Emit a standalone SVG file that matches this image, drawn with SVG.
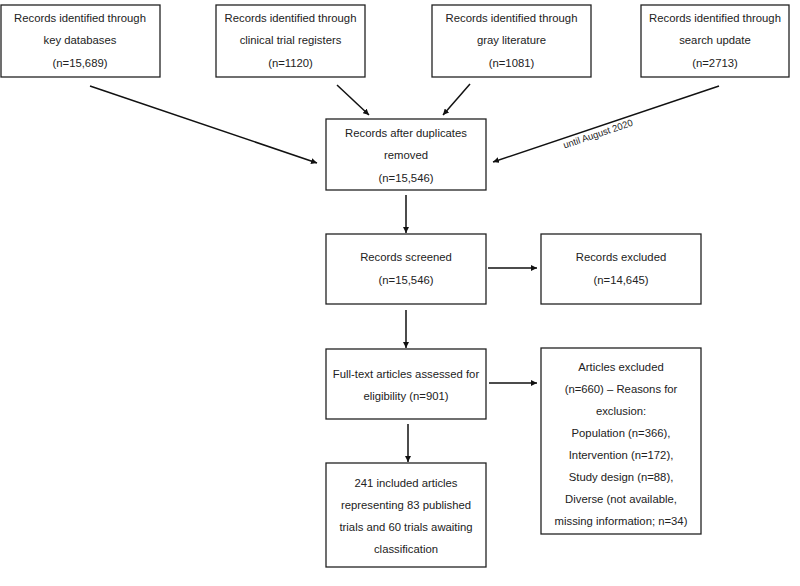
<svg xmlns="http://www.w3.org/2000/svg" width="800" height="586" viewBox="0 0 800 586">
<style>
.b{fill:#fff;stroke:#222;stroke-width:1.3}
.t{font-family:"Liberation Sans",Arial,sans-serif;font-size:11.3px;fill:#222;text-anchor:middle}
.c{stroke:#111;stroke-width:1.5;fill:none;marker-end:url(#ah)}
</style>
<defs>
<marker id="ah" viewBox="0 0 10 10" refX="10" refY="5" markerWidth="6" markerHeight="6" orient="auto" markerUnits="userSpaceOnUse"><path d="M0,0 L10,5 L0,10 z" fill="#111"/></marker>
</defs>
<rect width="800" height="586" fill="#fff"/>
<g id="n1"><rect class="b" x="1" y="5" width="159" height="72"/><text class="t" x="80" y="22">Records identified through</text><text class="t" x="80" y="44">key databases</text><text class="t" x="80" y="67">(n=15,689)</text></g>
<g id="n2"><rect class="b" x="216" y="5" width="149" height="72"/><text class="t" x="290.5" y="22">Records identified through</text><text class="t" x="290.5" y="44">clinical trial registers</text><text class="t" x="290.5" y="67">(n=1120)</text></g>
<g id="n3"><rect class="b" x="432" y="5" width="159" height="72"/><text class="t" x="511.5" y="22">Records identified through</text><text class="t" x="511.5" y="44">gray literature</text><text class="t" x="511.5" y="67">(n=1081)</text></g>
<g id="n4"><rect class="b" x="641" y="5" width="148" height="72"/><text class="t" x="715" y="22">Records identified through</text><text class="t" x="715" y="44">search update</text><text class="t" x="715" y="67">(n=2713)</text></g>
<g id="n5"><rect class="b" x="326" y="119" width="160" height="71"/><text class="t" x="406" y="137">Records after duplicates</text><text class="t" x="406" y="159">removed</text><text class="t" x="406" y="182">(n=15,546)</text></g>
<g id="n6"><rect class="b" x="326" y="234" width="160" height="70"/><text class="t" x="406" y="261">Records screened</text><text class="t" x="406" y="284">(n=15,546)</text></g>
<g id="n7"><rect class="b" x="541" y="234" width="160" height="70"/><text class="t" x="621" y="261">Records excluded</text><text class="t" x="621" y="284">(n=14,645)</text></g>
<g id="n8"><rect class="b" x="326" y="349" width="160" height="70"/><text class="t" x="406" y="378">Full-text articles assessed for</text><text class="t" x="406" y="400">eligibility (n=901)</text></g>
<g id="n9"><rect class="b" x="541" y="348" width="160" height="186"/><text class="t" x="621" y="371">Articles excluded</text><text class="t" x="621" y="393">(n=660) – Reasons for</text><text class="t" x="621" y="415">exclusion:</text><text class="t" x="621" y="437">Population (n=366),</text><text class="t" x="621" y="459">Intervention (n=172),</text><text class="t" x="621" y="481">Study design (n=88),</text><text class="t" x="621" y="503">Diverse (not available,</text><text class="t" x="621" y="525">missing information; n=34)</text></g>
<g id="n10"><rect class="b" x="326" y="463" width="160" height="104"/><text class="t" x="406" y="487">241 included articles</text><text class="t" x="406" y="509">representing 83 published</text><text class="t" x="406" y="531">trials and 60 trials awaiting</text><text class="t" x="406" y="553">classification</text></g>
<g id="connectors">
<line class="c" x1="90" y1="86" x2="317" y2="163"/>
<line class="c" x1="337" y1="85" x2="369" y2="115"/>
<line class="c" x1="470" y1="84" x2="443" y2="115"/>
<line class="c" x1="719" y1="86" x2="493" y2="162"/>
<text x="599" y="137" transform="rotate(-18.5 599 137)" style="font-family:'Liberation Sans',Arial,sans-serif;font-size:9.5px;fill:#222;text-anchor:middle">until August 2020</text>
<line class="c" x1="406" y1="195" x2="406" y2="233"/>
<line class="c" x1="488" y1="268" x2="537" y2="268"/>
<line class="c" x1="406" y1="310" x2="406" y2="348"/>
<line class="c" x1="489" y1="383" x2="537" y2="383"/>
<line class="c" x1="408" y1="424" x2="408" y2="462"/>
</g>
</svg>
